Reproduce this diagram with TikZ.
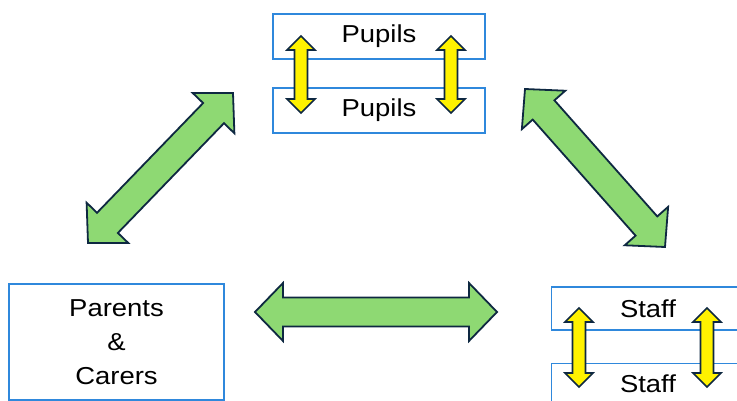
\documentclass[tikz,border=0pt]{standalone}
\usepackage{fontspec}
\setmainfont{Liberation Sans}[FakeStretch=1.12]
\usetikzlibrary{calc}
\definecolor{boxblue}{HTML}{2F88DC}
\definecolor{arrowgreen}{HTML}{8ED973}
\definecolor{arrowline}{HTML}{0E2841}
\tikzset{
  roombox/.style={draw=boxblue, line width=1.3pt, fill=white, inner sep=0pt,
    font=\fontsize{24.5}{34}\selectfont, align=center, text=black},
  greenarrow/.style={draw=arrowline, fill=arrowgreen, line width=1.8pt, line join=miter},
  yellowarrow/.style={draw=arrowline, fill=yellow, line width=1.6pt, line join=miter},
}
% #1,#2 end coordinates, #3 head length, #4 head half width, #5 shaft half width, #6 style
\newcommand\blockarrow[6]{%
  \coordinate (#1-h) at ($(#1)!#3!(#2)$);
  \coordinate (#2-h) at ($(#2)!#3!(#1)$);
  \draw[#6] (#1)
    -- ($(#1-h)!#4!90:(#2)$) -- ($(#1-h)!#5!90:(#2)$)
    -- ($(#2-h)!#5!-90:(#1)$) -- ($(#2-h)!#4!-90:(#1)$)
    -- (#2)
    -- ($(#2-h)!#4!90:(#1)$) -- ($(#2-h)!#5!90:(#1)$)
    -- ($(#1-h)!#5!-90:(#2)$) -- ($(#1-h)!#4!-90:(#2)$)
    -- cycle;
}
\begin{document}
\begin{tikzpicture}[x=1pt,y=-1pt]
\useasboundingbox (0,0) rectangle (737,401);
\begin{scope}
\clip (0,0) rectangle (737,401);
% boxes
\node[roombox, minimum width=212pt, minimum height=45pt] (pupils1) at (379,36.5) {Pupils};
\node[roombox, minimum width=212pt, minimum height=45pt] (pupils2) at (379,110.5) {Pupils};
\node[roombox, minimum width=215pt, minimum height=116pt] (parents) at (116.5,342) {Parents\\\&\\Carers};
\node[roombox, minimum width=210pt, minimum height=43pt, anchor=west] (staff1) at (551,308.5) {};
\node[font=\fontsize{24.5}{34}\selectfont] (staff1text) at (648,308.5) {Staff};
\node[roombox, minimum width=210pt, minimum height=50pt, anchor=north west] (staff2) at (551,363) {};
\node[font=\fontsize{24.5}{34}\selectfont] (staff2text) at (648,384) {Staff};
\end{scope}
% yellow arrows
\coordinate (y1a) at (301,36);  \coordinate (y1b) at (301,113);
\coordinate (y2a) at (451,36);  \coordinate (y2b) at (451,113);
\coordinate (y3a) at (579,308); \coordinate (y3b) at (579,387);
\coordinate (y4a) at (707,308); \coordinate (y4b) at (707,387);
\blockarrow{y1a}{y1b}{14pt}{14pt}{6.5pt}{yellowarrow}
\blockarrow{y2a}{y2b}{14pt}{14pt}{6.5pt}{yellowarrow}
\blockarrow{y3a}{y3b}{14pt}{14pt}{6.5pt}{yellowarrow}
\blockarrow{y4a}{y4b}{14pt}{14pt}{6.5pt}{yellowarrow}
% green arrows
\coordinate (g1a) at (233,93);  \coordinate (g1b) at (88,243);
\coordinate (g2a) at (525,89);  \coordinate (g2b) at (665,247);
\coordinate (g3a) at (255,312); \coordinate (g3b) at (497,312);
\blockarrow{g1a}{g1b}{28pt}{29pt}{14.5pt}{greenarrow}
\blockarrow{g2a}{g2b}{28pt}{29pt}{14.5pt}{greenarrow}
\blockarrow{g3a}{g3b}{28pt}{29pt}{14.5pt}{greenarrow}
\end{tikzpicture}
\end{document}
